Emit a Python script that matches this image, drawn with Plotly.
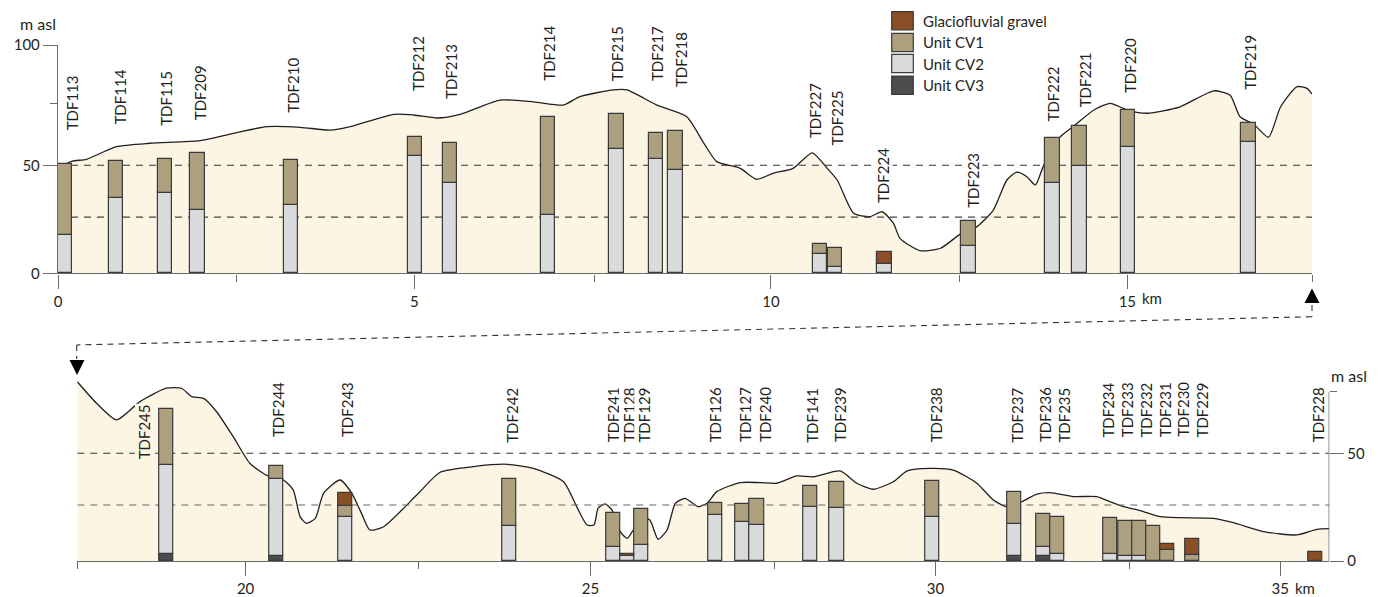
import plotly.graph_objects as go

# ------------------------------------------------------------------ DATA
# Terrain profile, upper panel (distance km, elevation m asl)
terrain_top_km = [0.0, 0.2, 0.40, 0.82, 1.29, 1.99, 2.46, 2.93, 3.40, 3.82, 4.10, 4.71, 4.99,
                  5.32, 5.64, 6.20, 6.67, 7.09, 7.32, 7.79, 7.98, 8.40, 8.82, 9.06, 9.24, 9.57,
                  9.80, 10.03, 10.31, 10.58, 10.79, 10.93, 11.16, 11.39, 11.56, 11.72, 11.81,
                  12.09, 12.38, 12.67, 12.89, 13.12, 13.31, 13.45, 13.59, 13.71, 13.82, 14.06,
                  14.25, 14.53, 14.76, 15.00, 15.28, 15.74, 16.21, 16.44, 16.58, 16.77, 16.98,
                  17.15, 17.38, 17.52, 17.59]
terrain_top_m = [48.6, 51.9, 52.8, 58.6, 60.2, 61.4, 64.8, 67.9, 67.6, 66.3, 67.9, 73.6, 73.3,
                 71.9, 73.6, 80.2, 79.4, 77.9, 81.8, 84.9, 84.9, 77.9, 72.5, 60.2, 51.7, 48.6,
                 43.5, 46.3, 48.6, 55.8, 48.6, 43.2, 27.8, 26.2, 28.5, 23.1, 16.2,
                 10.5, 11.6, 18.5, 21.6, 29.3, 43.2, 46.8, 44.7, 40.9, 49.4, 63.2,
                 68.2, 75.6, 78.7, 75.6, 74.1, 77.1, 84.5, 82.5, 72.5, 69.1, 63.0,
                 77.1, 86.4, 85.6, 83.0]

# Terrain profile, lower panel
terrain_bot_km = [17.56, 17.84, 18.13, 18.47, 18.85, 19.07, 19.22, 19.39, 19.58, 19.82, 20.06,
                  20.30, 20.55, 20.69, 20.79, 20.88, 21.01, 21.13, 21.37, 21.54, 21.68, 21.80,
                  22.00, 22.48, 22.82, 23.30, 23.79, 24.17, 24.61, 24.80, 24.95, 25.05, 25.11,
                  25.21, 25.31, 25.43, 25.53, 25.62, 25.72, 25.86, 25.98, 26.11, 26.23, 26.37,
                  26.56, 26.69, 26.83, 27.17, 27.46, 27.70, 27.99, 28.23, 28.62, 28.86, 29.10,
                  29.39, 29.59, 29.92, 30.26, 30.60, 30.84, 31.04, 31.25, 31.47, 31.66, 32.00,
                  32.34, 32.53, 32.73, 32.97, 33.26, 33.55, 34.03, 34.32, 34.76, 35.24, 35.53,
                  35.71]
terrain_bot_m = [83.2, 73.2, 65.5, 74.0, 80.2, 80.2, 76.3, 75.5, 69.3, 57.7, 45.4,
                 39.9, 37.6, 33.0, 20.6, 17.5, 19.8, 31.4, 37.6, 31.4, 22.1, 14.4,
                 15.9, 30.6, 41.2, 43.8, 44.9, 43.0, 36.8, 25.2, 16.7, 16.7, 24.5,
                 26.5, 23.7, 13.6, 10.5, 14.4, 20.6, 19.0, 10.1, 14.4, 26.8, 29.1,
                 25.2, 26.8, 32.2, 36.4, 36.4, 36.1, 39.5, 39.1, 41.8, 36.1, 33.3,
                 36.8, 41.8, 43.0, 42.2, 36.1, 28.3, 25.2, 27.5, 31.0, 31.7, 29.9,
                 29.9, 27.5, 25.2, 23.4, 20.6, 20.1, 19.8, 17.8, 13.6, 12.1, 14.7,
                 15.0]

# Boreholes, upper panel: position and top elevation of each unit (cumulative)
top_names = ["TDF113", "TDF114", "TDF115", "TDF209", "TDF210", "TDF212", "TDF213", "TDF214",
             "TDF215", "TDF217", "TDF218", "TDF227", "TDF225", "TDF224", "TDF223", "TDF222",
             "TDF221", "TDF220", "TDF219"]
top_km = [0.10, 0.816, 1.50, 1.957, 3.27, 5.006, 5.50, 6.875, 7.836, 8.39, 8.66, 10.69, 10.90,
          11.59, 12.77, 13.95, 14.33, 15.01, 16.70]
top_cv3 = [0] * 19
top_cv2 = [17.6, 34.9, 37.2, 29.2, 31.6, 54.4, 41.8, 27.0, 57.5, 53.1, 47.7, 8.8, 2.8, 4.2,
           12.5, 41.8, 49.8, 58.5, 60.9]
top_cv1 = [50.5, 52.1, 52.9, 55.5, 52.6, 63.2, 60.2, 72.5, 73.6, 65.1, 65.7, 13.4, 11.6, 4.2,
           24.1, 62.8, 68.3, 75.6, 69.4]
top_grav = [50.5, 52.1, 52.9, 55.5, 52.6, 63.2, 60.2, 72.5, 73.6, 65.1, 65.7, 13.4, 11.6, 9.9,
            24.1, 62.8, 68.3, 75.6, 69.4]

# Boreholes, lower panel
bot_names = ["TDF245", "TDF244", "TDF243", "TDF242", "TDF241", "TDF128", "TDF129", "TDF126",
             "TDF127", "TDF240", "TDF141", "TDF239", "TDF238", "TDF237", "TDF236", "TDF235",
             "TDF234", "TDF233", "TDF232", "TDF231", "TDF230", "TDF229", "TDF228"]
bot_km = [18.85, 20.44, 21.44, 23.82, 25.33, 25.53, 25.74, 26.81, 27.20, 27.41, 28.18, 28.57,
          29.96, 31.14, 31.56, 31.77, 32.54, 32.75, 32.96, 33.16, 33.36, 33.73, 35.51]
bot_cv3 = [3.1, 2.6, 0, 0, 0, 0, 0, 0, 0, 0, 0, 0, 0, 2.5, 2.3, 0, 0, 0, 0, 0, 0, 0, 0]
bot_cv2 = [44.7, 38.2, 20.4, 16.2, 6.6, 2.2, 7.7, 21.2, 18.0, 16.6, 25.2, 24.5, 20.3, 17.3, 6.6,
           3.4, 3.1, 2.5, 2.5, 0, 0, 0, 0]
bot_cv1 = [70.4, 44.0, 25.8, 38.1, 22.4, 2.2, 24.0, 26.8, 26.5, 28.9, 34.7, 36.8, 37.3, 32.2,
           21.7, 20.3, 20.0, 18.7, 18.7, 16.1, 5.1, 2.8, 0]
bot_grav = [70.4, 44.0, 31.4, 38.1, 22.4, 3.4, 24.0, 26.8, 26.5, 28.9, 34.7, 36.8, 37.3, 32.2,
            21.7, 20.3, 20.0, 18.7, 18.7, 16.1, 7.9, 10.2, 4.0]

# Borehole label anchor (km, m asl of label foot)
top_label_km = [0.20, 0.856, 1.511, 1.992, 3.30, 5.047, 5.52, 6.894, 7.84, 8.40, 8.74, 10.62,
                10.93, 11.58, 12.84, 13.96, 14.40, 15.03, 16.71]
top_label_m = [65.6, 68.2, 67.9, 70.2, 73.8, 84.1, 80.3, 88.7, 88.7, 88.7, 85.6, 62.0, 58.6,
               32.1, 29.8, 69.7, 76.4, 83.0, 84.4]
bot_label_km = [18.54, 20.46, 21.46, 23.86, 25.33, 25.55, 25.77, 26.81, 27.24, 27.53, 28.21,
                28.62, 30.00, 31.18, 31.59, 31.86, 32.50, 32.77, 33.05, 33.32, 33.59, 33.86,
                35.55]
bot_label_m = [46.9, 57.0, 57.0, 54.6, 54.6, 54.6, 54.6, 54.6, 54.6, 54.6, 54.6, 54.6, 54.6,
               54.6, 54.6, 54.6, 57.0, 57.0, 57.0, 57.0, 57.0, 57.0, 54.6]

ref_levels = [50, 26]
unit_names = ["Glaciofluvial gravel", "Unit CV1", "Unit CV2", "Unit CV3"]

# ------------------------------------------------------------------ STYLE
FONT = "Lato, 'Open Sans', sans-serif"
TXT = "#231f20"
CREAM = "#fdf5e4"
COLORS = {"Glaciofluvial gravel": "#8b4f28", "Unit CV1": "#ada07f",
          "Unit CV2": "#d9dadc", "Unit CV3": "#4d4d4f"}
OUTLINE = "#3a3a3a"
AXC = "#6a6a6a"
W, H = 1380, 597
BAR_W = 0.205


def px(x, y):
    return x / W, 1 - y / H


fig = go.Figure()


def add_panel(xa, ya, yb, km, t_m, kms, cv3, cv2, cv1, grav, x0, x1, dash_cols):
    # terrain
    fig.add_trace(go.Scatter(x=km, y=t_m, mode="lines", fill="tozeroy", fillcolor=CREAM,
                             line=dict(color=TXT, width=1.3, shape="spline", smoothing=0.6),
                             xaxis=xa, yaxis=ya, hoverinfo="skip", showlegend=False))
    # dashed reference levels
    for lv, col in zip(ref_levels, dash_cols):
        fig.add_trace(go.Scatter(x=[x0, x1], y=[lv, lv], mode="lines",
                                 line=dict(color=col, width=1.1, dash="7px,6px"),
                                 xaxis=xa, yaxis=ya, hoverinfo="skip", showlegend=False))
    # stacked borehole units (drawn on an overlaid axis so they sit above the terrain)
    layers = [("Unit CV3", [0] * len(kms), cv3), ("Unit CV2", cv3, cv2),
              ("Unit CV1", cv2, cv1), ("Glaciofluvial gravel", cv1, grav)]
    for name, lo, hi in layers:
        xs, bs, hs = [], [], []
        for k, b, t in zip(kms, lo, hi):
            if t - b > 0.05:
                xs.append(k)
                bs.append(b)
                hs.append(t - b)
        fig.add_trace(go.Bar(x=xs, y=hs, base=bs, width=BAR_W, name=name,
                             marker=dict(color=COLORS[name], line=dict(color=OUTLINE, width=1.2)),
                             xaxis=xa, yaxis=yb, showlegend=False))


add_panel("x", "y", "y3", terrain_top_km, terrain_top_m, top_km,
          top_cv3, top_cv2, top_cv1, top_grav, 0, 17.59, ["#333333", "#444444"])
add_panel("x2", "y2", "y4", terrain_bot_km, terrain_bot_m, bot_km,
          bot_cv3, bot_cv2, bot_cv1, bot_grav, 17.56, 35.71, ["#333333", "#666666"])

tickfont = dict(family=FONT, size=15, color=TXT)
axis_common = dict(showgrid=False, zeroline=False, linecolor=AXC, linewidth=1.4,
                   ticks="outside", tickcolor=AXC, tickwidth=1.4, tickfont=tickfont)
minor_common = dict(ticklen=7, ticks="outside", tickcolor=AXC, tickwidth=1.4)

TOP_Y = [0, 105.7]
BOT_Y = [0, 85]
fig.update_layout(
    width=W, height=H, margin=dict(l=0, r=0, t=0, b=0, autoexpand=False),
    paper_bgcolor="white", plot_bgcolor="rgba(0,0,0,0)",
    barmode="overlay", bargap=0, showlegend=False,
    font=dict(family=FONT, color=TXT),
    xaxis=dict(domain=[58 / W, 1312 / W], range=[0, 17.59], anchor="y", showline=True,
               tickvals=[0, 5, 10, 15], ticktext=["0", "5", "10", "15"], ticklen=14,
               minor=dict(tickvals=[2.5, 7.52, 12.65, 17.59], **minor_common),
               **axis_common),
    yaxis=dict(domain=[1 - 273.3 / H, 1 - 45 / H], range=TOP_Y, anchor="x", showline=True,
               tickvals=[0, 50, 105.7], ticktext=["0", "50", "100"], ticklen=14,
               minor=dict(tickvals=[78.4], **minor_common),
               **axis_common),
    yaxis3=dict(overlaying="y", range=TOP_Y, anchor="x", visible=False),
    xaxis2=dict(domain=[77.3 / W, 1329.3 / W], range=[17.56, 35.71], anchor="y2", showline=True,
                tickvals=[20, 25, 30, 35], ticktext=["20", "25", "30", "35"], ticklen=14,
                minor=dict(tickvals=[17.56, 22.5, 27.66, 32.81], **minor_common),
                **axis_common),
    yaxis2=dict(domain=[1 - 561 / H, 1 - 377.9 / H], range=BOT_Y, anchor="x2", side="right",
                showline=False, tickvals=[0, 50], ticktext=["0", "50"], ticklen=14,
                minor=dict(tickvals=[78.6], **minor_common),
                **axis_common),
    yaxis4=dict(overlaying="y2", range=BOT_Y, anchor="x2", visible=False),
)

shapes = []
# right-hand axis line of lower panel (stops at the top tick)
shapes.append(dict(type="line", xref="x2", yref="y2", x0=35.71, x1=35.71, y0=0, y1=78.6,
                   line=dict(color=AXC, width=1.4)))
# connector between the two panels
dash = dict(color="#333333", width=1.1, dash="6px,5px")
for (ax, ay), (bx, by) in [((1312, 305), (1312, 316.7)), ((1312, 316.7), (76.7, 345)),
                           ((76.7, 345), (76.7, 359))]:
    x0, y0 = px(ax, ay)
    x1, y1 = px(bx, by)
    shapes.append(dict(type="line", xref="paper", yref="paper", x0=x0, y0=y0, x1=x1, y1=y1,
                       line=dash))


def tri(points):
    pts = [px(a, b) for a, b in points]
    return "M" + " L".join(f"{a:.5f},{b:.5f}" for a, b in pts) + " Z"


shapes.append(dict(type="path", xref="paper", yref="paper",
                   path=tri([(1312, 288.5), (1304.5, 303), (1319.5, 303)]),
                   fillcolor="black", line=dict(width=0)))
shapes.append(dict(type="path", xref="paper", yref="paper",
                   path=tri([(69.5, 360), (84.5, 360), (77, 375)]),
                   fillcolor="black", line=dict(width=0)))

# legend swatches
leg_rows = [(11.7, 30), (33.3, 51.7), (54.3, 72.7), (76, 94.3)]
annotations = []
for name, (ya, yb) in zip(unit_names, leg_rows):
    x0, y0 = px(891.7, yb)
    x1, y1 = px(913.3, ya)
    shapes.append(dict(type="rect", xref="paper", yref="paper", x0=x0, x1=x1, y0=y0, y1=y1,
                       fillcolor=COLORS[name], line=dict(color=OUTLINE, width=1.2)))
    tx, ty = px(920.5, (ya + yb) / 2)
    annotations.append(dict(xref="paper", yref="paper", x=tx, y=ty, xanchor="left",
                            yanchor="middle", text=name, showarrow=False,
                            font=dict(family=FONT, size=15, color=TXT)))

# unit labels "m asl"
for (lx, ly) in [(38, 24), (1349, 375)]:
    tx, ty = px(lx, ly)
    annotations.append(dict(xref="paper", yref="paper", x=tx, y=ty, xanchor="center",
                            yanchor="middle", text="m asl", showarrow=False,
                            font=dict(family=FONT, size=16, color=TXT)))

# "km" after the last labelled distance tick of each panel
for xr, xv, ly in [("x", 15, 298), ("x2", 35, 587.5)]:
    annotations.append(dict(xref=xr, yref="paper", x=xv, y=1 - ly / H, xanchor="left",
                            yanchor="middle", xshift=13, text="km", showarrow=False,
                            font=tickfont))

# borehole labels
for names, lkm, lm, xr, yr in [(top_names, top_label_km, top_label_m, "x", "y"),
                                (bot_names, bot_label_km, bot_label_m, "x2", "y2")]:
    for n, k, m in zip(names, lkm, lm):
        annotations.append(dict(xref=xr, yref=yr, x=k, y=m, text=n, textangle=-90,
                                xanchor="center", yanchor="bottom", showarrow=False,
                                bgcolor=CREAM if n == "TDF245" else "white", borderpad=0,
                                font=dict(family=FONT, size=15, color=TXT)))

fig.update_layout(shapes=shapes, annotations=annotations)

post = ("var gd=document.getElementById('{plot_id}');"
        "gd.style.position='fixed';gd.style.left='0px';gd.style.top='0px';"
        "document.body.style.margin='0';document.documentElement.style.overflow='hidden';")
fig.write_html("out.html", config={"displayModeBar": False}, post_script=post)
